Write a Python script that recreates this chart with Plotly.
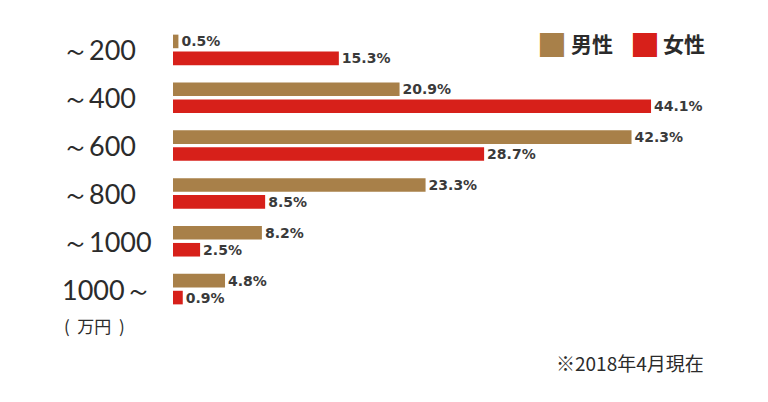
import plotly.graph_objects as go

categories = ["～200", "～400", "～600", "～800", "～1000", "1000～"]
male = [0.5, 20.9, 42.3, 23.3, 8.2, 4.8]
female = [15.3, 44.1, 28.7, 8.5, 2.5, 0.9]
series_names = ["男性", "女性"]
colors = ["#A88049", "#D7201A"]
unit_label = "(  万円  )"
note = "※2018年4月現在"

fig = go.Figure()
for name, vals, col in zip(series_names, [male, female], colors):
    fig.add_trace(go.Bar(
        y=categories, x=vals, orientation="h", name=name,
        marker=dict(color=col, line=dict(width=0)),
        text=[f"{v:.1f}%" for v in vals], textposition="outside",
        constraintext="none",
        textfont=dict(family="DejaVu Sans", size=14, color="#3a3a3a", weight="bold"),
        cliponaxis=False, showlegend=False,
    ))

annotations = []
for c in categories:
    annotations.append(dict(
        xref="paper", yref="y", x=-0.208, y=c, xanchor="left", yanchor="middle",
        text=c, showarrow=False,
        font=dict(family="Lato", size=27, color="#2b2b2b"),
    ))
annotations.append(dict(
    xref="paper", yref="paper", x=-0.205, y=-0.042, xanchor="left", yanchor="middle",
    text=unit_label, showarrow=False,
    font=dict(family="Noto Sans CJK JP", size=17, color="#2b2b2b"),
))
annotations.append(dict(
    xref="paper", yref="paper", x=0.983, y=-0.171, xanchor="right", yanchor="middle",
    text=note, showarrow=False,
    font=dict(family="Noto Sans CJK JP", size=19, color="#2b2b2b"),
))
# legend: coloured squares + labels
leg_sq_x = [0.699, 0.871]
leg_tx_x = [0.730, 0.901]
for name, col, sx, tx in zip(series_names, colors, leg_sq_x, leg_tx_x):
    annotations.append(dict(
        xref="paper", yref="paper", x=sx, y=0.941, xanchor="center", yanchor="middle",
        text="■", showarrow=False,
        font=dict(family="Noto Sans CJK JP", size=30, color=col),
    ))
    annotations.append(dict(
        xref="paper", yref="paper", x=tx, y=0.941, xanchor="left", yanchor="middle",
        text=name, showarrow=False,
        font=dict(family="Noto Sans CJK JP", size=21, color="#2b2b2b", weight="bold"),
    ))

fig.update_layout(
    width=768, height=402,
    margin=dict(l=173, r=53, t=26, b=89),
    paper_bgcolor="white", plot_bgcolor="white",
    barmode="group", bargap=0.29, bargroupgap=0.2,
    xaxis=dict(range=[0, 50], showgrid=False, zeroline=False, showticklabels=False,
               showline=False, fixedrange=True),
    yaxis=dict(autorange="reversed", showgrid=False, zeroline=False,
               showticklabels=False, showline=False),
    annotations=annotations,
    uniformtext=dict(mode=False),
)

fig.write_html("out.html")
